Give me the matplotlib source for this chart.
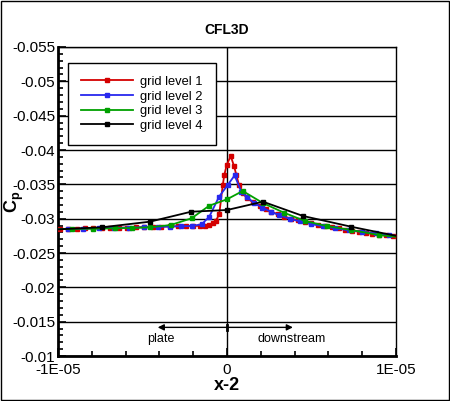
import matplotlib
matplotlib.use("Agg")
import matplotlib.pyplot as plt
from matplotlib.ticker import MultipleLocator, FuncFormatter

plt.rcParams['font.family'] = ['Liberation Sans', 'DejaVu Sans']
plt.rcParams['mathtext.default'] = 'regular'

SCALE = 1e-6  # x values below are given in units of 1e-6

labels = ["grid level 1", "grid level 2", "grid level 3", "grid level 4"]
colors = ["#d40000", "#2828ee", "#00a000", "#000000"]

x1 = [-10.4, -9.9, -9.4, -8.9, -8.4, -7.9, -7.4, -6.9, -6.4, -5.9, -5.4, -4.9, -4.4,
      -3.9, -3.4, -2.9, -2.45, -2.0, -1.6, -1.3, -1.05, -0.85, -0.67, -0.46, -0.25,
      -0.16, -0.02, 0.22, 0.41, 0.55, 0.71, 0.95, 1.17, 1.56, 1.95, 2.3, 2.59, 3.0,
      3.4, 3.8, 4.2, 4.6, 5.0, 5.4, 5.8, 6.2, 6.6, 7.0, 7.4, 7.8, 8.2, 8.6, 9.0, 9.4,
      9.8, 10.2]
cp1 = [-0.02845, -0.0285, -0.02852, -0.02855, -0.02857, -0.0286, -0.02862, -0.02865,
       -0.02868, -0.0287, -0.02873, -0.02876, -0.0288, -0.02884, -0.02888, -0.0289,
       -0.02892, -0.02895, -0.02895, -0.029, -0.02908, -0.0293, -0.02966, -0.03063,
       -0.0349, -0.03636, -0.03781, -0.03912, -0.0377, -0.0364, -0.0349, -0.0338,
       -0.03296, -0.03238, -0.03184, -0.0314, -0.03101, -0.03068, -0.0303, -0.0300,
       -0.02975, -0.0295, -0.0293, -0.0291, -0.0289, -0.02875, -0.0286, -0.0284,
       -0.02825, -0.0281, -0.02795, -0.0278, -0.02765, -0.02755, -0.02745, -0.02735]

x2 = [-10.3, -9.4, -8.5, -7.6, -6.7, -5.8, -4.9, -4.1, -3.4, -2.7, -2.09, -1.5, -1.05,
      -0.47, 0.04, 0.45, 0.85, 1.2, 1.6, 2.1, 2.6, 3.1, 3.7, 4.3, 5.0, 5.7, 6.4, 7.2,
      8.0, 8.8, 9.6, 10.4]
cp2 = [-0.02845, -0.0285, -0.02855, -0.0286, -0.02865, -0.0287, -0.02875, -0.0288,
       -0.02885, -0.0289, -0.02893, -0.02918, -0.03028, -0.0332, -0.0349, -0.0363,
       -0.0339, -0.0331, -0.0323, -0.0316, -0.031, -0.0305, -0.0300, -0.0296, -0.0292,
       -0.0289, -0.0286, -0.0283, -0.0281, -0.02785, -0.0276, -0.0274]

x3 = [-10.6, -9.2, -7.9, -6.6, -5.6, -4.56, -3.33, -2.1, -1.05, 0.0, 0.93, 2.15, 3.37,
      4.62, 5.9, 7.34, 9.0, 10.6]
cp3 = [-0.02845, -0.0285, -0.02855, -0.0286, -0.02865, -0.02874, -0.02908, -0.03005,
       -0.03189, -0.03282, -0.03403, -0.03224, -0.03087, -0.02966, -0.02893, -0.02835,
       -0.02762, -0.0272]

x4 = [-10.4, -7.41, -4.56, -2.13, 0.0, 2.13, 4.5, 7.34, 10.4]
cp4 = [-0.0284, -0.02874, -0.02956, -0.03101, -0.03126, -0.03247, -0.03039, -0.02883,
       -0.0273]

xs = [x1, x2, x3, x4]
cps = [cp1, cp2, cp3, cp4]

fig = plt.figure(figsize=(4.5, 4.01), dpi=100)
ax = fig.add_axes([58/450, 1-356/401, (396-58)/450, (356-47)/401])

for xv, yv, c, lab in zip(xs, cps, colors, labels):
    ax.plot([v*SCALE for v in xv], yv, color=c, lw=1.3, marker='s', ms=3.4,
            mfc=c, mec=c, label=lab, zorder=3)

ax.set_xlim(-1e-5, 1e-5)
ax.set_ylim(-0.01, -0.055)

ax.yaxis.set_major_locator(MultipleLocator(0.005))
ax.yaxis.set_minor_locator(MultipleLocator(0.001))
ax.xaxis.set_major_locator(MultipleLocator(1e-5))
ax.xaxis.set_minor_locator(MultipleLocator(2e-6))

def yfmt(v, pos):
    s = "%.3f" % v
    s = s.rstrip('0').rstrip('.')
    return s
def xfmt(v, pos):
    if abs(v) < 1e-12:
        return "0"
    return ("-" if v < 0 else "") + "1E-05"
ax.yaxis.set_major_formatter(FuncFormatter(yfmt))
ax.xaxis.set_major_formatter(FuncFormatter(xfmt))

ax.tick_params(which='both', direction='in', top=False, right=False, labelsize=11,
               width=1.2)
ax.tick_params(which='major', length=6)
ax.tick_params(which='minor', length=3.5)
ax.tick_params(axis='x', pad=5)
ax.tick_params(axis='y', pad=2)

ax.grid(axis='y', which='major', color='black', lw=1.0)
ax.axvline(0, color='black', lw=1.0, zorder=1)

for s in ['left', 'bottom']:
    ax.spines[s].set_linewidth(2.0)
for s in ['top', 'right']:
    ax.spines[s].set_linewidth(1.0)

ax.set_title("CFL3D", fontsize=10, fontweight='bold', pad=9)
ax.set_xlabel("x-2", fontsize=13, fontweight='bold', labelpad=0)
ax.set_ylabel(r"C$_\mathregular{p}$", fontsize=13, fontweight='bold')
ax.yaxis.set_label_coords(-0.095, 0.5)

# annotation arrows
ax.annotate("", xy=(-4.1e-6, -0.01417), xytext=(0, -0.01417),
            arrowprops=dict(arrowstyle='-|>', color='black', lw=1.0,
                            mutation_scale=9, shrinkA=0, shrinkB=0))
ax.annotate("", xy=(3.9e-6, -0.01417), xytext=(0, -0.01417),
            arrowprops=dict(arrowstyle='-|>', color='black', lw=1.0,
                            mutation_scale=9, shrinkA=0, shrinkB=0))
ax.plot([0, 0], [-0.0138, -0.0145], color='black', lw=2.0)
ax.text(-3.9e-6, -0.0125, "plate", ha='center', va='center', fontsize=9)
ax.text(3.8e-6, -0.0125, "downstream", ha='center', va='center', fontsize=9)

leg = ax.legend(loc='upper left', bbox_to_anchor=((68-58)/338, (356-63)/309),
                fontsize=9.3, frameon=True, fancybox=False, shadow=False,
                handlelength=4.0, handletextpad=0.6, borderpad=1.0,
                labelspacing=0.2, borderaxespad=0)
leg.get_frame().set_edgecolor('black')
leg.get_frame().set_linewidth(1.0)
leg.get_frame().set_alpha(1)

# figure border
fig.patches.append(plt.Rectangle((0.002, 0.002), 0.995, 0.995, transform=fig.transFigure,
                                 fill=False, edgecolor='black', lw=1.0))

fig.savefig("out.png", dpi=100)
